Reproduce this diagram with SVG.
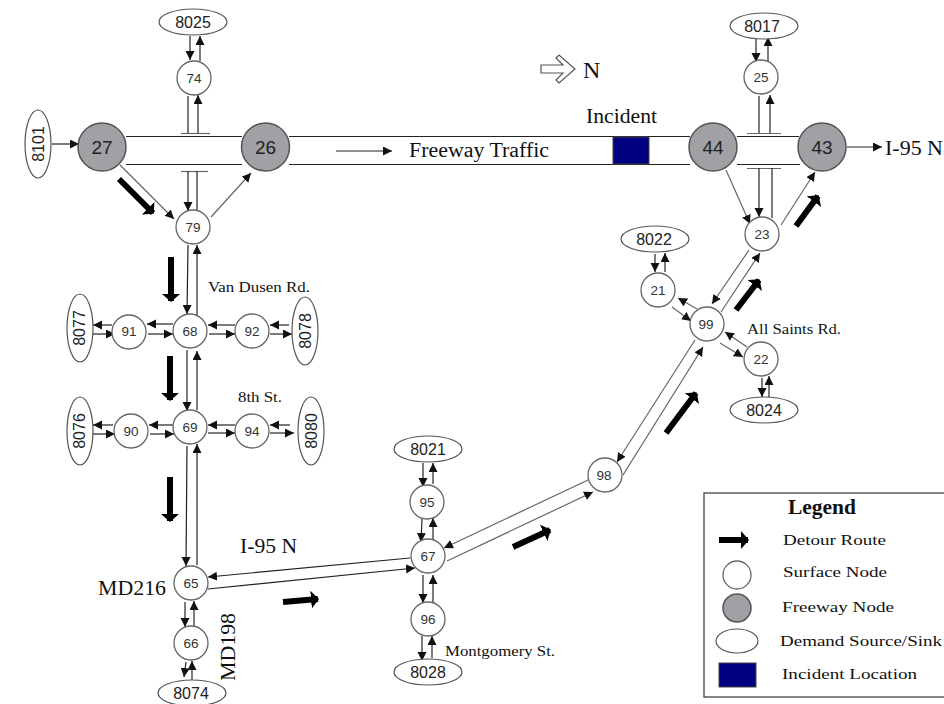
<svg xmlns="http://www.w3.org/2000/svg" width="944" height="704" viewBox="0 0 944 704">
<style>
.s{fill:#fff;stroke:#666;stroke-width:1.3}
.f{fill:#a0a0a5;stroke:#555;stroke-width:1.5}
.d{fill:#fff;stroke:#555;stroke-width:1.2}
.n{font-family:"Liberation Sans",Arial,sans-serif;fill:#333;text-anchor:middle}
.n13{font-size:13.500px}.n16{font-size:16px}.n18{font-size:19px}
.n16,.n18{fill:#222}
.t{font-family:"Liberation Serif","Times New Roman",serif;fill:#111}
.c line{stroke:#222;stroke-width:1.2;fill:none}
.c line.a{marker-end:url(#ah)}
.c line.b{stroke:#666}
.c line.r{stroke:#222;stroke-width:1}
.w{stroke:#000;stroke-width:6;marker-end:url(#dh);fill:none}
</style>
<defs>
<marker id="ah" markerUnits="userSpaceOnUse" markerWidth="10" markerHeight="10" refX="9" refY="4.500" orient="auto"><path d="M0 0L9 4.500L0 9Z" fill="#111"/></marker>
<marker id="dh" markerUnits="userSpaceOnUse" markerWidth="10" markerHeight="18" refX="7" refY="9" orient="auto"><path d="M0 0L8 9L0 18Z" fill="#000"/></marker>
</defs>
<rect width="944" height="704" fill="#fff"/>
<g id="freeway" class="c">
<line class="r" x1="126" y1="136.500" x2="242" y2="136.500"/><line class="r" x1="126" y1="164.500" x2="242" y2="164.500"/>
<line class="r" x1="289" y1="136.500" x2="690" y2="136.500"/><line class="r" x1="289" y1="164.500" x2="690" y2="164.500"/>
<line class="r" x1="737" y1="136.500" x2="799" y2="136.500"/><line class="r" x1="737" y1="164.500" x2="800" y2="164.500"/>
<line class="b" x1="181" y1="133.500" x2="210" y2="133.500"/><line class="b" x1="181" y1="171.500" x2="208" y2="171.500"/>
<line class="b" x1="747" y1="133.500" x2="781" y2="133.500"/><line class="b" x1="747" y1="168.500" x2="781" y2="168.500"/>
</g>
<g id="connectors" class="c">
<line class="a" x1="52" y1="144" x2="79" y2="144"/>
<line class="a" x1="190" y1="36" x2="190" y2="60"/><line class="a" x1="200" y1="61" x2="200" y2="36"/>
<line x1="188" y1="96" x2="188" y2="133"/><line class="a" x1="198" y1="133" x2="198" y2="95"/>
<line class="a" x1="188" y1="171" x2="188" y2="211"/><line x1="197" y1="171" x2="197" y2="210"/>
<line class="a" x1="188" y1="245" x2="187" y2="314"/><line class="a" x1="197" y1="315" x2="197" y2="245"/>
<line class="a b" x1="120" y1="165" x2="174" y2="219"/><line class="a b" x1="211" y1="217" x2="251" y2="173"/>
<line class="a" x1="112" y1="325" x2="93" y2="325"/><line class="a" x1="93" y1="334" x2="115" y2="334"/>
<line class="a" x1="173" y1="324" x2="147" y2="324"/><line class="a" x1="148" y1="334" x2="173" y2="334"/>
<line class="a" x1="235" y1="325" x2="208" y2="325"/><line class="a" x1="209" y1="334" x2="235" y2="334"/>
<line class="a" x1="289" y1="325" x2="270" y2="325"/><line class="a" x1="270" y1="334" x2="292" y2="334"/>
<line class="a" x1="187" y1="350" x2="187" y2="411"/><line class="a" x1="197" y1="410" x2="197" y2="351"/>
<line class="a" x1="113" y1="425" x2="93" y2="425"/><line class="a" x1="93" y1="434" x2="115" y2="434"/>
<line class="a" x1="173" y1="425" x2="149" y2="425"/><line class="a" x1="150" y1="434" x2="174" y2="434"/>
<line class="a" x1="235" y1="425" x2="208" y2="425"/><line class="a" x1="208" y1="433" x2="235" y2="433"/>
<line class="a" x1="290" y1="425" x2="270" y2="425"/><line class="a" x1="270" y1="433" x2="294" y2="433"/>
<line class="a" x1="187" y1="446" x2="186" y2="566"/><line class="a" x1="197" y1="565" x2="197" y2="444"/>
<line class="a" x1="185" y1="602" x2="185" y2="627"/><line class="a" x1="194" y1="627" x2="194" y2="601"/>
<line class="a" x1="186" y1="662" x2="184" y2="677"/><line class="a" x1="192" y1="680" x2="192" y2="661"/>
<line class="a" x1="410" y1="558" x2="208" y2="577"/><line class="a" x1="208" y1="589" x2="415" y2="568"/>
<line class="a" x1="423" y1="463" x2="423" y2="487"/><line class="a" x1="433" y1="484" x2="433" y2="463"/>
<line class="a" x1="422" y1="519" x2="421" y2="542"/><line class="a" x1="433" y1="540" x2="433" y2="518"/>
<line class="a" x1="423" y1="575" x2="423" y2="603"/><line class="a" x1="433" y1="603" x2="433" y2="575"/>
<line class="a" x1="422" y1="636" x2="422" y2="661"/><line class="a" x1="432" y1="658" x2="432" y2="636"/>
<line class="a b" x1="588" y1="480" x2="444" y2="548"/><line class="a b" x1="447" y1="561" x2="593" y2="492"/>
<line class="a b" x1="695" y1="340" x2="617" y2="462"/><line class="a b" x1="623" y1="475" x2="703" y2="347"/>
<line class="a b" x1="721" y1="312" x2="760" y2="253"/><line class="a b" x1="749" y1="250" x2="712" y2="304"/>
<line class="a b" x1="672" y1="307" x2="691" y2="321"/><line class="a b" x1="697" y1="309" x2="678" y2="298"/>
<line class="a b" x1="720" y1="343" x2="743" y2="357"/><line class="a b" x1="747" y1="347" x2="725" y2="332"/>
<line class="a" x1="655" y1="254" x2="655" y2="272"/><line class="a" x1="665" y1="272" x2="665" y2="253"/>
<line class="a" x1="762" y1="378" x2="762" y2="397"/><line class="a" x1="769" y1="397" x2="769" y2="376"/>
<line class="a" x1="756" y1="39" x2="756" y2="62"/><line class="a" x1="768" y1="61" x2="768" y2="37"/>
<line x1="759" y1="96" x2="759" y2="133"/><line class="a" x1="770" y1="133" x2="770" y2="95"/>
<line class="a b" x1="726" y1="170" x2="750" y2="224"/><line class="a b" x1="781" y1="225" x2="815" y2="172"/>
<line class="a" x1="759" y1="168" x2="759" y2="217"/><line x1="772" y1="168" x2="772" y2="218"/>
<line class="a" x1="847" y1="147" x2="882" y2="147"/>
<line class="a" x1="336" y1="151" x2="392" y2="151"/>
</g>
<g id="detours">
<line class="w" x1="119" y1="179" x2="153" y2="213"/>
<line class="w" x1="171" y1="257" x2="171" y2="301"/>
<line class="w" x1="170" y1="356" x2="170" y2="400"/>
<line class="w" x1="170" y1="477" x2="170" y2="521"/>
<line class="w" x1="283" y1="602" x2="318" y2="599"/>
<line class="w" x1="513" y1="547" x2="550" y2="530"/>
<line class="w" x1="666" y1="433" x2="696" y2="393"/>
<line class="w" x1="736" y1="310" x2="759" y2="280"/>
<line class="w" x1="796" y1="226" x2="818" y2="196"/>
</g>
<g id="n27"><circle class="f" cx="102" cy="147" r="24"/><text class="n n18" x="102" y="154">27</text></g>
<g id="n26"><circle class="f" cx="265.500" cy="147" r="24"/><text class="n n18" x="265.500" y="154">26</text></g>
<g id="n44"><circle class="f" cx="713" cy="147" r="24"/><text class="n n18" x="713" y="154">44</text></g>
<g id="n43"><circle class="f" cx="822" cy="147" r="24"/><text class="n n18" x="822" y="154">43</text></g>
<g id="n74"><circle class="s" cx="194" cy="78" r="17"/><text class="n n13" x="194" y="83">74</text></g>
<g id="n79"><circle class="s" cx="193" cy="227" r="17"/><text class="n n13" x="193" y="232">79</text></g>
<g id="n68"><circle class="s" cx="190" cy="331" r="17"/><text class="n n13" x="190" y="336">68</text></g>
<g id="n91"><circle class="s" cx="129" cy="332" r="17"/><text class="n n13" x="129" y="336">91</text></g>
<g id="n92"><circle class="s" cx="252" cy="331" r="17"/><text class="n n13" x="252" y="336">92</text></g>
<g id="n69"><circle class="s" cx="190" cy="427" r="17"/><text class="n n13" x="190" y="432">69</text></g>
<g id="n90"><circle class="s" cx="131" cy="431" r="17"/><text class="n n13" x="131" y="436">90</text></g>
<g id="n94"><circle class="s" cx="252" cy="431" r="17"/><text class="n n13" x="252" y="436">94</text></g>
<g id="n65"><circle class="s" cx="191" cy="583" r="17"/><text class="n n13" x="191" y="588">65</text></g>
<g id="n66"><circle class="s" cx="191" cy="643" r="17"/><text class="n n13" x="191" y="648">66</text></g>
<g id="n95"><circle class="s" cx="427" cy="502" r="17"/><text class="n n13" x="427" y="507">95</text></g>
<g id="n67"><circle class="s" cx="428" cy="556" r="17"/><text class="n n13" x="428" y="561">67</text></g>
<g id="n96"><circle class="s" cx="428" cy="619" r="17"/><text class="n n13" x="428" y="624">96</text></g>
<g id="n98"><circle class="s" cx="605" cy="475" r="17"/><text class="n n13" x="604" y="480">98</text></g>
<g id="n21"><circle class="s" cx="658" cy="290" r="17"/><text class="n n13" x="658" y="295">21</text></g>
<g id="n99"><circle class="s" cx="707" cy="324" r="17"/><text class="n n13" x="706" y="329">99</text></g>
<g id="n22"><circle class="s" cx="761" cy="359" r="17"/><text class="n n13" x="761" y="364">22</text></g>
<g id="n23"><circle class="s" cx="762" cy="234" r="17"/><text class="n n13" x="762" y="239">23</text></g>
<g id="n25"><circle class="s" cx="761" cy="77" r="17"/><text class="n n13" x="761" y="82">25</text></g>
<g id="n8025"><ellipse class="d" cx="193" cy="22" rx="34" ry="13"/><text class="n n16" x="193" y="28">8025</text></g>
<g id="n8101"><ellipse class="d" cx="38" cy="144" rx="13" ry="34"/><text class="n n16" transform="translate(44,144) rotate(-90)">8101</text></g>
<g id="n8077"><ellipse class="d" cx="80" cy="328" rx="13" ry="34"/><text class="n n16" transform="translate(85,328) rotate(-90)">8077</text></g>
<g id="n8078"><ellipse class="d" cx="305" cy="331" rx="13" ry="34"/><text class="n n16" transform="translate(311,331) rotate(-90)">8078</text></g>
<g id="n8076"><ellipse class="d" cx="80" cy="431" rx="13" ry="34"/><text class="n n16" transform="translate(85,431) rotate(-90)">8076</text></g>
<g id="n8080"><ellipse class="d" cx="311" cy="431" rx="13" ry="34"/><text class="n n16" transform="translate(317,431) rotate(-90)">8080</text></g>
<g id="n8074"><ellipse class="d" cx="192" cy="693" rx="34" ry="13"/><text class="n n16" x="191" y="699">8074</text></g>
<g id="n8021"><ellipse class="d" cx="428" cy="449" rx="34" ry="13"/><text class="n n16" x="428" y="455">8021</text></g>
<g id="n8028"><ellipse class="d" cx="428" cy="672" rx="34" ry="13"/><text class="n n16" x="428" y="678">8028</text></g>
<g id="n8022"><ellipse class="d" cx="655" cy="239" rx="34" ry="13"/><text class="n n16" x="654" y="245">8022</text></g>
<g id="n8024"><ellipse class="d" cx="764" cy="410" rx="34" ry="13"/><text class="n n16" x="764" y="416">8024</text></g>
<g id="n8017"><ellipse class="d" cx="764" cy="26" rx="34" ry="13"/><text class="n n16" x="762" y="32">8017</text></g>
<rect id="incident" x="613" y="137" width="36" height="27" fill="#000080" stroke="#444" stroke-width="1"/>
<polygon id="north" points="541,65 563,65 556,58 559,55 575,69 559,83 556,80 563,73 541,73" fill="#fff" stroke="#555" stroke-width="1.2"/>
<g id="labels" class="t" lengthAdjust="spacingAndGlyphs">
<text x="583" y="78" font-size="24">N</text>
<text x="586" y="123" font-size="20" textLength="71" lengthAdjust="spacingAndGlyphs">Incident</text>
<text x="409" y="157" font-size="20" textLength="140" lengthAdjust="spacingAndGlyphs">Freeway Traffic</text>
<text x="885" y="155" font-size="22" textLength="58" lengthAdjust="spacingAndGlyphs">I-95 N</text>
<text x="208" y="292" font-size="14.500" textLength="102" lengthAdjust="spacingAndGlyphs">Van Dusen Rd.</text>
<text x="238" y="402" font-size="14.500" textLength="44" lengthAdjust="spacingAndGlyphs">8th St.</text>
<text x="240" y="553" font-size="20" textLength="57" lengthAdjust="spacingAndGlyphs">I-95 N</text>
<text x="98" y="595" font-size="20" textLength="68" lengthAdjust="spacingAndGlyphs">MD216</text>
<text transform="translate(235,681) rotate(-90)" font-size="20" textLength="68" lengthAdjust="spacingAndGlyphs">MD198</text>
<text x="445" y="656" font-size="14.500" textLength="110" lengthAdjust="spacingAndGlyphs">Montgomery St.</text>
<text x="747" y="334" font-size="14.500" textLength="94" lengthAdjust="spacingAndGlyphs">All Saints Rd.</text>
</g>
<g id="legend">
<rect x="704" y="493" width="245" height="204" fill="#fff" stroke="#444" stroke-width="1.3"/>
<line class="w" x1="719" y1="540" x2="748" y2="540"/>
<circle class="s" cx="737" cy="575" r="14"/>
<circle class="f" cx="737" cy="608" r="14"/>
<ellipse class="d" cx="737" cy="641" rx="21" ry="12"/>
<rect x="719" y="663" width="37" height="24" fill="#000080" stroke="#444" stroke-width="1"/>
<g class="t" font-size="15.500">
<text x="788" y="514" font-size="20" font-weight="bold" textLength="68" lengthAdjust="spacingAndGlyphs">Legend</text>
<text x="783" y="545" textLength="103" lengthAdjust="spacingAndGlyphs">Detour Route</text>
<text x="783" y="577" textLength="104" lengthAdjust="spacingAndGlyphs">Surface Node</text>
<text x="782" y="612" textLength="112" lengthAdjust="spacingAndGlyphs">Freeway Node</text>
<text x="780" y="646" textLength="162" lengthAdjust="spacingAndGlyphs">Demand Source/Sink</text>
<text x="782" y="679" textLength="135" lengthAdjust="spacingAndGlyphs">Incident Location</text>
</g>
</g>
</svg>
